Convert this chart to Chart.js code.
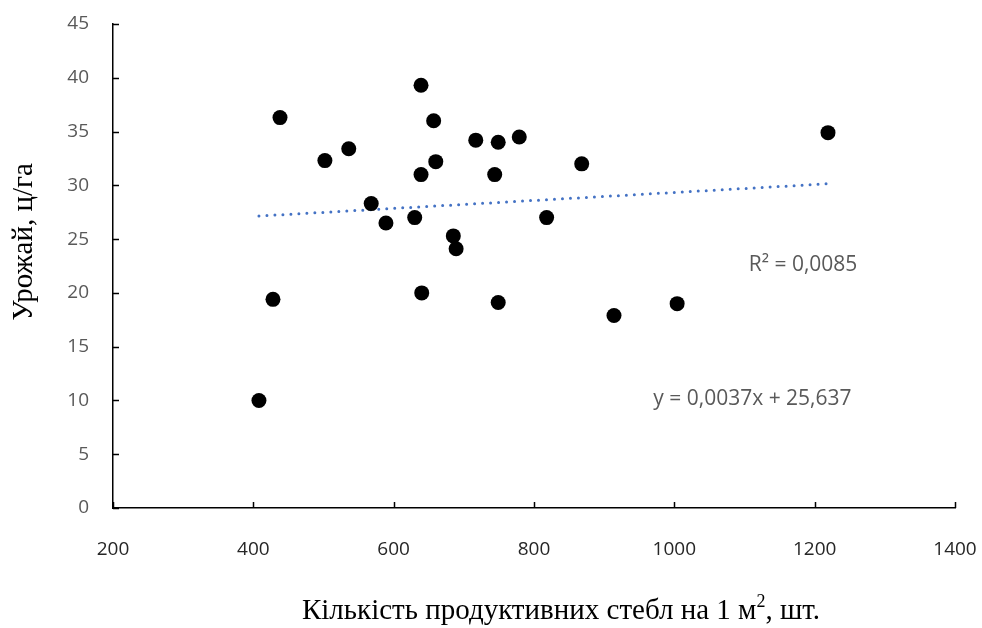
<!DOCTYPE html>
<html>
<head>
<meta charset="utf-8">
<script src="https://cdn.jsdelivr.net/npm/chart.js@4"></script>
<style>
  html, body { margin: 0; padding: 0; background: #fff; }
  #wrap { width: 982px; height: 628px; }
</style>
</head>
<body>
<div id="wrap"><canvas id="yieldChart"></canvas></div>
<script>
// stems per m2 vs yield
const stems = [408, 428, 438, 502, 536, 568, 589, 630, 639, 639, 640, 657, 660, 685, 689,
               717, 744, 749, 749, 779, 818, 868, 914, 1004, 1219];
const yieldVals = [10.0, 19.4, 36.3, 32.3, 33.4, 28.3, 26.5, 27.0, 39.3, 31.0, 20.0, 36.0, 32.2, 25.3, 24.1,
                   34.2, 31.0, 34.0, 19.1, 34.5, 27.0, 32.0, 17.9, 19.0, 34.9];
const trendSlope = 0.0037;
const trendIntercept = 25.637;
const trendX = [408, 1219];
const eqText = 'y = 0,0037x + 25,637';
const r2Text = 'R² = 0,0085';
const yTitle = 'Урожай, ц/га';
const xTitleParts = ['Кількість продуктивних стебл на 1 м', '2', ', шт.'];

const points = stems.map((x, i) => ({x: x, y: yieldVals[i]}));
const trend = trendX.map(x => ({x: x, y: trendSlope * x + trendIntercept}));

// inner tick marks, axis titles, trendline labels
const extras = {
    id: 'extras',
    afterDraw(chart) {
        const ctx = chart.ctx;
        const xs = chart.scales.x, ys = chart.scales.y;
        ctx.save();
        ctx.strokeStyle = '#000';
        ctx.lineWidth = 1.5;
        ctx.beginPath();
        ys.ticks.forEach(t => {
            const py = Math.round(ys.getPixelForValue(t.value)) + 0.5;
            ctx.moveTo(xs.left, py);
            ctx.lineTo(xs.left + 6, py);
        });
        xs.ticks.forEach(t => {
            const px = Math.round(xs.getPixelForValue(t.value)) + 0.5;
            ctx.moveTo(px, ys.bottom);
            ctx.lineTo(px, ys.bottom - 6);
        });
        ctx.stroke();

        // trendline labels
        ctx.fillStyle = '#595959';
        ctx.font = '21px "Open Sans", sans-serif';
        ctx.textBaseline = 'middle';
        ctx.textAlign = 'left';
        ctx.fillText(r2Text, xs.getPixelForValue(1106), ys.getPixelForValue(22.6));
        ctx.fillText(eqText, xs.getPixelForValue(970), ys.getPixelForValue(10.15));

        // axis titles
        ctx.fillStyle = '#000';
        ctx.textBaseline = 'alphabetic';
        const mainFont = '29px "Liberation Serif", serif';
        const supFont = '18px "Liberation Serif", serif';
        ctx.font = mainFont;
        const w0 = ctx.measureText(xTitleParts[0]).width;
        const w2 = ctx.measureText(xTitleParts[2]).width;
        ctx.font = supFont;
        const w1 = ctx.measureText(xTitleParts[1]).width;
        let tx = 561 - (w0 + w1 + w2) / 2;
        const baseY = 619;
        ctx.font = mainFont;
        ctx.fillText(xTitleParts[0], tx, baseY);
        tx += w0;
        ctx.font = supFont;
        ctx.fillText(xTitleParts[1], tx, baseY - 12);
        tx += w1;
        ctx.font = mainFont;
        ctx.fillText(xTitleParts[2], tx, baseY);

        ctx.translate(24, 242);
        ctx.rotate(-Math.PI / 2);
        ctx.textAlign = 'center';
        ctx.textBaseline = 'middle';
        ctx.fillText(yTitle, 0, 0);
        ctx.restore();
    }
};

const yieldChart = document.getElementById('yieldChart');
new Chart(yieldChart, {
    type: 'scatter',
    data: {
        datasets: [
        {
            label: 'Урожай',
            data: points,
            pointRadius: 7.5,
            pointHoverRadius: 7.5,
            pointBackgroundColor: '#000',
            pointBorderWidth: 0,
            order: 1
        },
        {
            label: 'Лінійна',
            type: 'line',
            data: trend,
            borderColor: '#4472C4',
            borderWidth: 3,
            borderDash: [0, 8],
            borderCapStyle: 'round',
            pointRadius: 0,
            fill: false,
            order: 2
        }
        ]
    },
    options: {
        responsive: true,
        maintainAspectRatio: false,
        animation: false,
        layout: {
            padding: {top: 24, right: 27, left: 0, bottom: 0}
        },
        plugins: {
            legend: {display: false},
            tooltip: {enabled: false}
        },
        scales: {
            x: {
                type: 'linear',
                min: 200,
                max: 1400,
                ticks: {
                    stepSize: 200,
                    color: '#262626',
                    padding: 22,
                    maxRotation: 0,
                    callback: v => String(v),
                    font: {family: '"Open Sans", sans-serif', size: 19}
                },
                grid: {display: false},
                border: {color: '#000', width: 1.5},
                afterFit(scale) {
                    scale.height = 120;
                    scale.paddingRight = 0;
                    scale.paddingLeft = 0;
                }
            },
            y: {
                min: 0,
                max: 45,
                ticks: {
                    stepSize: 5,
                    color: '#595959',
                    padding: 16,
                    callback: v => String(v),
                    font: {family: '"Open Sans", sans-serif', size: 19}
                },
                grid: {display: false},
                border: {color: '#000', width: 1.5},
                afterFit(scale) {
                    scale.width = 113;
                    scale.paddingTop = 0;
                    scale.paddingBottom = 0;
                }
            }
        }
    },
    plugins: [extras]
});
</script>
</body>
</html>
